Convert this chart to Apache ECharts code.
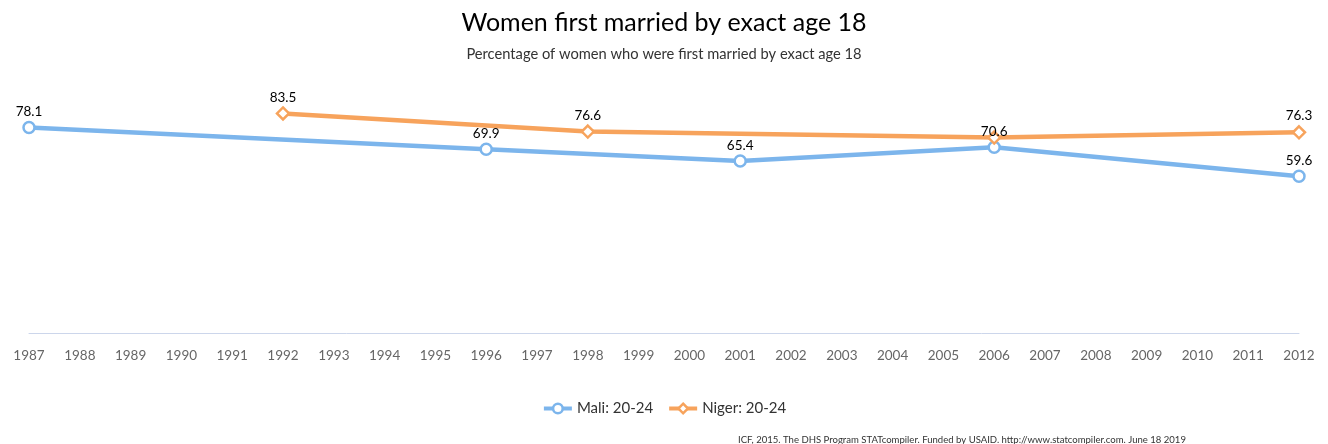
<!DOCTYPE html>
<html><head><meta charset="utf-8">
<script src="https://cdn.jsdelivr.net/npm/echarts@6/dist/echarts.min.js"></script>
<style>html,body{margin:0;padding:0;background:#fff}#c{width:1328px;height:444px}</style>
</head><body><div id="c"></div>
<script>
const years = ['1987','1988','1989','1990','1991','1992','1993','1994','1995','1996','1997','1998','1999','2000','2001','2002','2003','2004','2005','2006','2007','2008','2009','2010','2011','2012'];
const maliYears = ['1987','1996','2001','2006','2012'];
const maliValues = [78.1, 69.9, 65.4, 70.6, 59.6];
const nigerYears = ['1992','1998','2006','2012'];
const nigerValues = [83.5, 76.6, 74.3, 76.3];
const nigerHiddenLabels = ['2006'];

const FONT = 'Lato, "Open Sans", sans-serif';
const MALI = '#7cb5ec', NIGER = '#f7a35c';
const maliData = maliYears.map((y, i) => [y, maliValues[i]]);
const nigerData = nigerYears.map((y, i) => ({value: [y, nigerValues[i]], label: {show: !nigerHiddenLabels.includes(y)}}));

const chart = echarts.init(document.getElementById('c'));
chart.setOption({
  animation: false,
  textStyle: {fontFamily: FONT},
  title: [
    {text: 'Women first married by exact age 18', left: 'center', top: 5,
     textStyle: {fontSize: 25, fontWeight: 'normal', color: '#000', fontFamily: FONT}},
    {text: 'Percentage of women who were first married by exact age 18', left: 'center', top: 42,
     textStyle: {fontSize: 14.7, fontWeight: 'normal', color: '#333', fontFamily: FONT}},
    {text: 'ICF, 2015. The DHS Program STATcompiler. Funded by USAID. http://www.statcompiler.com. June 18 2019', left: 733, top: 430,
     textStyle: {fontSize: 9.55, fontWeight: 'normal', color: '#333', fontFamily: FONT}}
  ],
  legend: {
    left: 'center', top: 396, itemWidth: 28, itemHeight: 12, itemGap: 14,
    textStyle: {fontSize: 15, color: '#333', fontFamily: FONT},
    data: [
      {name: 'Mali: 20-24', itemStyle: {color: '#fff', borderColor: MALI, borderWidth: 2.5}, lineStyle: {color: MALI, width: 4}},
      {name: 'Niger: 20-24', itemStyle: {color: '#fff', borderColor: NIGER, borderWidth: 2.5}, lineStyle: {color: NIGER, width: 4}}
    ]
  },
  grid: {left: 29, right: 29, top: 70, bottom: 111},
  xAxis: {
    type: 'category', data: years, boundaryGap: false,
    axisLine: {lineStyle: {color: '#ccd6eb', width: 1}},
    axisTick: {show: false},
    axisLabel: {color: '#666', fontSize: 13.5, margin: 16, interval: 0, fontFamily: FONT}
  },
  yAxis: {type: 'value', min: 0, max: 100, show: false, splitLine: {show: false}},
  series: [
    {name: 'Mali: 20-24', type: 'line', data: maliData,
     lineStyle: {width: 4.5, color: MALI}, symbol: 'circle', symbolSize: 11,
     itemStyle: {color: '#fff', borderColor: MALI, borderWidth: 2.5},
     label: {show: true, position: 'top', distance: 2, color: '#000', fontSize: 13.5, fontFamily: FONT}},
    {name: 'Niger: 20-24', type: 'line', data: nigerData,
     lineStyle: {width: 4.5, color: NIGER}, symbol: 'diamond', symbolSize: 12,
     itemStyle: {color: '#fff', borderColor: NIGER, borderWidth: 2.5},
     label: {show: true, position: 'top', distance: 2, color: '#000', fontSize: 13.5, fontFamily: FONT}}
  ]
});
</script></body></html>
